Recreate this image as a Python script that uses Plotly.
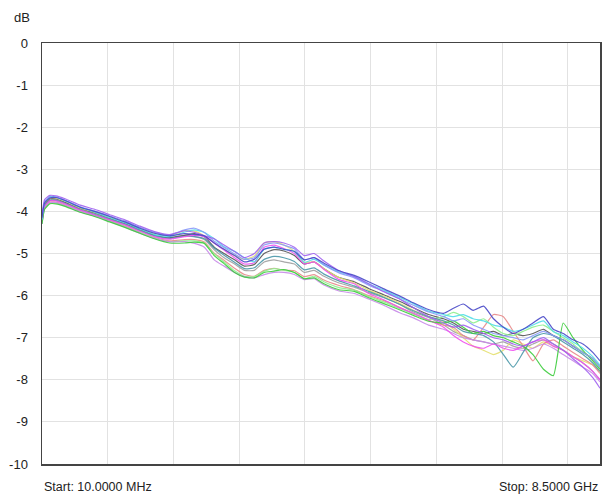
import plotly.graph_objects as go

# Frequency points (MHz)
freq_mhz = [10, 50, 130, 220, 360, 590, 810, 1040, 1270, 1500, 1720, 1950, 2180, 2330, 2480, 2630,
            2780, 2940, 3090, 3240, 3390, 3540, 3690, 3850, 4000, 4150, 4300, 4530, 4760, 4980, 5210,
            5440, 5660, 5890, 6120, 6270, 6420, 6570, 6730, 6880, 7030, 7180, 7330, 7480, 7640, 7790,
            7940, 8090, 8240, 8390, 8500]

trace_blue = [-4.15, -3.8, -3.68, -3.67, -3.74, -3.9, -4.0, -4.12, -4.25, -4.4, -4.52, -4.58, -4.53, -4.55, -4.58, -4.75,
              -4.9, -5.05, -5.2, -5.14, -4.9, -4.85, -4.9, -4.95, -5.15, -5.1, -5.23, -5.41, -5.52, -5.67, -5.84,
              -6.0, -6.17, -6.33, -6.42, -6.3, -6.2, -6.35, -6.25, -6.55, -6.75, -6.9, -6.8, -6.65, -6.5, -6.8,
              -6.9, -7.05, -7.15, -7.35, -7.55]
trace_purple = [-4.1, -3.72, -3.62, -3.63, -3.7, -3.85, -3.95, -4.08, -4.2, -4.35, -4.48, -4.55, -4.46, -4.5, -4.58, -4.65,
                -4.8, -4.95, -5.1, -5.0, -4.75, -4.72, -4.75, -4.85, -5.05, -5.0, -5.18, -5.41, -5.55, -5.72, -5.91,
                -6.07, -6.29, -6.5, -6.65, -6.75, -6.7, -6.8, -6.9, -7.0, -7.05, -7.15, -7.2, -7.1, -7.0, -7.15,
                -7.3, -7.5, -7.7, -7.95, -8.2]
trace_cyan = [-4.2, -3.78, -3.65, -3.66, -3.75, -3.9, -4.02, -4.15, -4.27, -4.42, -4.55, -4.6, -4.49, -4.44, -4.5, -4.65,
              -4.84, -4.95, -5.1, -5.2, -4.9, -4.85, -4.9, -4.95, -5.21, -5.14, -5.27, -5.44, -5.55, -5.72, -5.87,
              -6.04, -6.19, -6.37, -6.45, -6.5, -6.45, -6.55, -6.6, -6.7, -6.75, -6.85, -6.8, -6.7, -6.6, -6.85,
              -6.95, -7.1, -7.25, -7.45, -7.65]
trace_green = [-4.3, -3.95, -3.82, -3.82, -3.88, -4.02, -4.12, -4.25, -4.38, -4.52, -4.65, -4.75, -4.75, -4.73, -4.76, -5.05,
               -5.24, -5.45, -5.56, -5.58, -5.45, -5.42, -5.38, -5.45, -5.6, -5.58, -5.72, -5.86, -5.9, -6.05, -6.19,
               -6.33, -6.47, -6.61, -6.65, -6.6, -6.75, -6.9, -6.85, -6.95, -7.0, -7.1, -7.2, -7.4, -7.75, -7.9,
               -6.65, -7.0, -7.3, -7.55, -7.75]
trace_magenta = [-4.25, -3.88, -3.75, -3.75, -3.82, -3.97, -4.08, -4.2, -4.32, -4.47, -4.6, -4.66, -4.6, -4.57, -4.6, -4.75,
                 -4.92, -5.1, -5.25, -5.22, -4.85, -4.8, -4.88, -5.0, -5.25, -5.2, -5.38, -5.62, -5.72, -5.95, -6.1,
                 -6.28, -6.42, -6.58, -6.75, -6.95, -7.1, -7.2, -7.25, -7.15, -7.25, -7.3, -7.2, -7.1, -7.05, -7.2,
                 -7.3, -7.45, -7.6, -7.8, -8.0]
trace_gray = [-4.2, -3.85, -3.73, -3.72, -3.8, -3.95, -4.05, -4.18, -4.3, -4.45, -4.57, -4.62, -4.57, -4.6, -4.67, -4.91,
              -5.1, -5.25, -5.4, -5.4, -5.2, -5.15, -5.2, -5.25, -5.45, -5.4, -5.54, -5.7, -5.8, -5.93, -6.05,
              -6.2, -6.39, -6.52, -6.7, -6.85, -6.95, -7.05, -7.1, -7.15, -7.1, -7.2, -7.25, -7.15, -7.05, -7.15,
              -7.3, -7.45, -7.6, -7.8, -8.0]
trace_darkgray = [-4.22, -3.82, -3.7, -3.7, -3.78, -3.93, -4.03, -4.16, -4.28, -4.43, -4.56, -4.63, -4.57, -4.53, -4.6, -4.85,
                  -5.0, -5.15, -5.3, -5.26, -5.0, -4.91, -4.94, -5.05, -5.25, -5.2, -5.36, -5.57, -5.67, -5.83, -5.98,
                  -6.13, -6.29, -6.45, -6.55, -6.65, -6.8, -6.85, -6.9, -6.85, -6.95, -6.9, -6.95, -6.9, -6.8, -6.95,
                  -7.05, -7.2, -7.35, -7.5, -7.7]
trace_yellow = [-4.18, -3.8, -3.68, -3.68, -3.76, -3.92, -4.02, -4.14, -4.26, -4.4, -4.52, -4.57, -4.46, -4.47, -4.58, -4.75,
                -4.9, -5.05, -5.14, -5.06, -4.75, -4.72, -4.8, -4.95, -5.21, -5.2, -5.36, -5.57, -5.7, -5.87, -6.01,
                -6.17, -6.35, -6.5, -6.62, -6.8, -7.0, -7.2, -7.3, -7.4, -7.3, -7.05, -7.15, -7.25, -7.1, -7.2,
                -7.3, -7.45, -7.55, -7.65, -7.8]
trace_salmon = [-4.27, -3.9, -3.78, -3.78, -3.85, -4.0, -4.1, -4.22, -4.35, -4.5, -4.62, -4.7, -4.67, -4.67, -4.73, -4.99,
                -5.16, -5.35, -5.5, -5.54, -5.4, -5.35, -5.4, -5.41, -5.55, -5.5, -5.63, -5.76, -5.86, -6.0, -6.12,
                -6.27, -6.43, -6.59, -6.7, -6.75, -6.95, -7.05, -6.75, -6.45, -6.5, -6.85, -7.2, -7.55, -7.15, -7.05,
                -7.2, -7.35, -7.5, -7.65, -7.85]
trace_teal = [-4.23, -3.86, -3.74, -3.74, -3.81, -3.96, -4.07, -4.19, -4.31, -4.46, -4.58, -4.64, -4.59, -4.6, -4.65, -4.87,
              -5.04, -5.21, -5.36, -5.34, -5.14, -5.07, -5.1, -5.19, -5.39, -5.34, -5.49, -5.65, -5.77, -5.9, -6.04,
              -6.2, -6.36, -6.5, -6.6, -6.7, -6.85, -6.9, -6.95, -7.1, -7.4, -7.7, -7.35, -7.0, -6.9, -6.95,
              -7.1, -7.25, -7.4, -7.6, -7.8]
trace_lightgreen = [-4.28, -3.92, -3.8, -3.8, -3.86, -4.0, -4.1, -4.23, -4.36, -4.5, -4.63, -4.72, -4.7, -4.7, -4.75, -5.01,
                    -5.2, -5.41, -5.54, -5.55, -5.42, -5.36, -5.4, -5.45, -5.6, -5.54, -5.67, -5.81, -5.87, -6.02, -6.15,
                    -6.3, -6.43, -6.57, -6.5, -6.4, -6.5, -6.65, -6.55, -6.75, -6.9, -6.95, -6.85, -6.75, -6.7, -6.85,
                    -7.0, -7.15, -7.35, -7.5, -7.7]
trace_violet = [-4.3, -3.93, -3.8, -3.79, -3.86, -4.01, -4.11, -4.24, -4.37, -4.52, -4.64, -4.72, -4.72, -4.76, -4.85, -5.15,
                -5.3, -5.45, -5.55, -5.58, -5.5, -5.45, -5.45, -5.5, -5.62, -5.6, -5.75, -5.89, -5.95, -6.08, -6.23,
                -6.4, -6.53, -6.7, -6.8, -6.9, -7.0, -7.05, -7.1, -7.15, -7.2, -7.25, -7.3, -7.25, -7.15, -7.25,
                -7.4, -7.55, -7.7, -7.85, -8.05]
trace_lightblue = [-4.16, -3.78, -3.66, -3.66, -3.73, -3.89, -3.99, -4.11, -4.23, -4.38, -4.5, -4.56, -4.44, -4.4, -4.5, -4.71,
                   -4.86, -5.01, -5.14, -5.1, -4.8, -4.75, -4.8, -4.89, -5.15, -5.1, -5.27, -5.46, -5.58, -5.75, -5.9,
                   -6.07, -6.23, -6.39, -6.5, -6.6, -6.55, -6.7, -6.8, -6.9, -6.95, -7.0, -7.05, -6.95, -6.85, -6.95,
                   -7.05, -7.2, -7.35, -7.5, -7.7]

series = [
    (trace_gray, "#a0a0a0"),
    (trace_darkgray, "#555555"),
    (trace_yellow, "#e4e070"),
    (trace_salmon, "#e88a8a"),
    (trace_lightgreen, "#8ef08e"),
    (trace_violet, "#c88ae8"),
    (trace_teal, "#4a98a8"),
    (trace_magenta, "#f050f0"),
    (trace_green, "#3ccc3c"),
    (trace_cyan, "#50dde8"),
    (trace_lightblue, "#8898f8"),
    (trace_purple, "#a060f0"),
    (trace_blue, "#4848c8"),
]

y_ticks = [0, -1, -2, -3, -4, -5, -6, -7, -8, -9, -10]
y_ticktext = ["0", "-1", "-2", "-3", "-4", "-5", "-6", "-7", "-8", "-9", "-10"]

fig = go.Figure()
for vals, col in series:
    fig.add_trace(go.Scatter(x=freq_mhz, y=vals, mode="lines",
                             line=dict(color=col, width=1.2, shape="spline", smoothing=0.5),
                             opacity=0.9, showlegend=False, hoverinfo="skip"))

FONT = "Liberation Sans, Arial, sans-serif"
fig.update_layout(
    width=603, height=500,
    margin=dict(l=42, r=1, t=43, b=36),
    paper_bgcolor="white", plot_bgcolor="white",
    font=dict(family=FONT, size=13, color="#222222"),
    xaxis=dict(range=[10, 8500], tick0=10, dtick=1000, showticklabels=False,
               showgrid=True, gridcolor="#e2e2e2", gridwidth=1, zeroline=False,
               showline=True, linecolor="#444444", linewidth=1.5, mirror=True, ticks=""),
    yaxis=dict(range=[-10, 0], tickvals=y_ticks, ticktext=y_ticktext,
               showgrid=True, gridcolor="#e2e2e2", gridwidth=1, zeroline=False,
               showline=True, linecolor="#444444", linewidth=1.5, mirror=True,
               ticks="", ticklabelstandoff=10, tickfont=dict(size=13, color="#222222")),
    annotations=[
        dict(text="dB", xref="paper", yref="paper", x=-10/560, y=(464-17)/421,
             xanchor="right", yanchor="middle", showarrow=False, font=dict(size=13, color="#222222")),
        dict(text="Start: 10.0000 MHz", xref="paper", yref="paper", x=0, y=(464-487)/421,
             xanchor="left", yanchor="middle", showarrow=False, font=dict(size=12.5, color="#222222")),
        dict(text="Stop: 8.5000 GHz", xref="paper", yref="paper", x=1, y=(464-487)/421,
             xanchor="right", yanchor="middle", showarrow=False, font=dict(size=12.5, color="#222222")),
    ],
)

# remove the default page margin so the 603x500 figure fills the window exactly
fig.write_html("out.html",
               config={"displayModeBar": False, "staticPlot": True},
               post_script="document.body.style.margin='0px';document.body.style.overflow='hidden';")
